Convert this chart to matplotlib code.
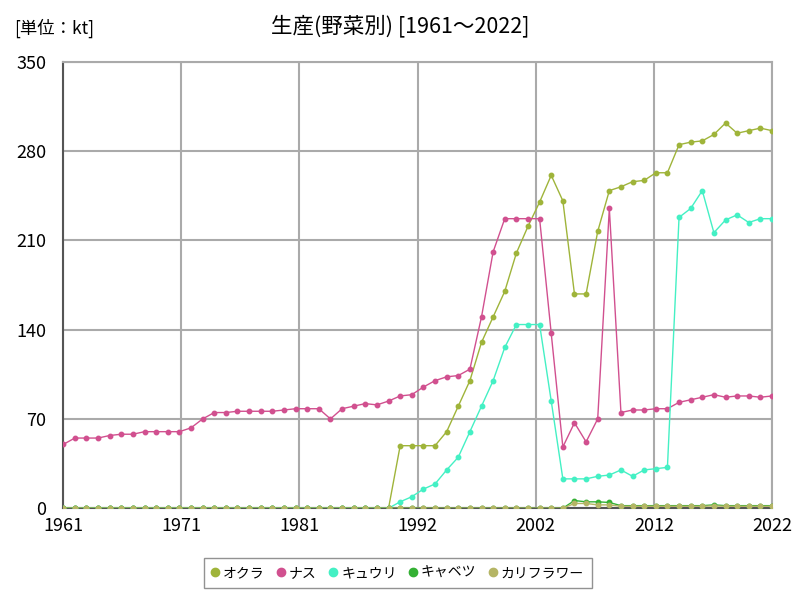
import numpy as np
import matplotlib
matplotlib.use("Agg")
import matplotlib.pyplot as plt

plt.rcParams['font.family'] = ['Noto Sans CJK JP', 'DejaVu Sans']

years = list(range(1961, 2023))

# 1961-1989 zeros for everything except ナス
okra = [0] * 29 + [
    49, 49, 49, 49, 60, 80, 100, 130, 150, 170, 200, 221, 240, 261,
    241, 168, 168, 217, 249, 252, 256, 257, 263, 263, 285, 287, 288, 293,
    302, 294, 296, 298, 296]
nasu = [
    50, 55, 55, 55, 57, 58, 58, 60, 60, 60, 60, 63, 70, 75, 75, 76, 76,
    76, 76, 77, 78, 78, 78, 70, 78, 80, 82, 81, 84,
    88, 89, 95, 100, 103, 104, 109, 150, 201, 227, 227, 227, 227, 137,
    48, 67, 52, 70, 235, 75, 77, 77, 78, 78, 83, 85, 87, 89, 87, 88, 88,
    87, 88]
kyuuri = [0] * 29 + [
    5, 9, 15, 19, 30, 40, 60, 80, 100, 126, 144, 144, 144, 84, 23, 23,
    23, 25, 26, 30, 25, 30, 31, 32, 228, 235, 249, 216, 226, 230, 224,
    227, 227]
cabbage = [0] * 39 + [
    0, 0, 0, 0, 0, 6, 5, 5, 4.5, 2, 2, 2, 2, 2, 2, 2, 2, 2.6, 2, 2, 2,
    2, 2]
cauliflower = [0] * 39 + [
    0, 0, 0, 0, 0, 3.7, 3.7, 2.6, 2.6, 1.5, 1.5, 1.5, 1.5, 1.5, 1.5, 1.5,
    1.5, 1.8, 1.5, 1.5, 1.5, 1.5, 1.5]

series = [
    ('オクラ', okra, '#9fb43a'),
    ('ナス', nasu, '#d1508f'),
    ('キュウリ', kyuuri, '#44f0c4'),
    ('キャベツ', cabbage, '#34b034'),
    ('カリフラワー', cauliflower, '#b5b565'),
]

fig = plt.figure(figsize=(8, 6), dpi=100)
ax = fig.add_axes([0.079, 0.153, 0.886, 0.744])

for name, vals, col in series:
    ax.plot(years, vals, color=col, lw=1, marker='o', ms=3.2, mec=col, label=name, zorder=3)

ax.set_xlim(1961, 2022)
ax.set_ylim(0, 350)
xt = [1961 + k * 61 / 6 for k in range(7)]
ax.set_xticks(xt)
ax.set_xticklabels([str(int(round(v + 1e-9))) for v in xt])
ax.set_yticks([0, 70, 140, 210, 280, 350])
ax.tick_params(length=0, labelsize=13)
ax.tick_params(axis='y', pad=12)
ax.tick_params(axis='x', pad=6)
ax.grid(True, color='#aaaaaa', lw=1.5)
for s in ['top', 'right']:
    ax.spines[s].set_color('#aaaaaa')
    ax.spines[s].set_linewidth(1.5)
for s in ['left', 'bottom']:
    ax.spines[s].set_color('#555555')
    ax.spines[s].set_linewidth(1.5)

fig.text(0.5, 0.957, '生産(野菜別) [1961～2022]', ha='center', va='center', fontsize=15.5)
fig.text(0.018, 0.953, '[単位：kt]', ha='left', va='center', fontsize=12.5)

leg = fig.legend(loc='center', bbox_to_anchor=(0.497, 0.045), ncol=5, frameon=True,
                 fontsize=10, handlelength=0.6, handletextpad=0.25, columnspacing=0.9,
                 fancybox=False, edgecolor='#777777', borderpad=0.55)
for h in leg.legend_handles:
    h.set_linestyle('none')
    h.set_markersize(6)

fig.savefig('out.png', dpi=100)
